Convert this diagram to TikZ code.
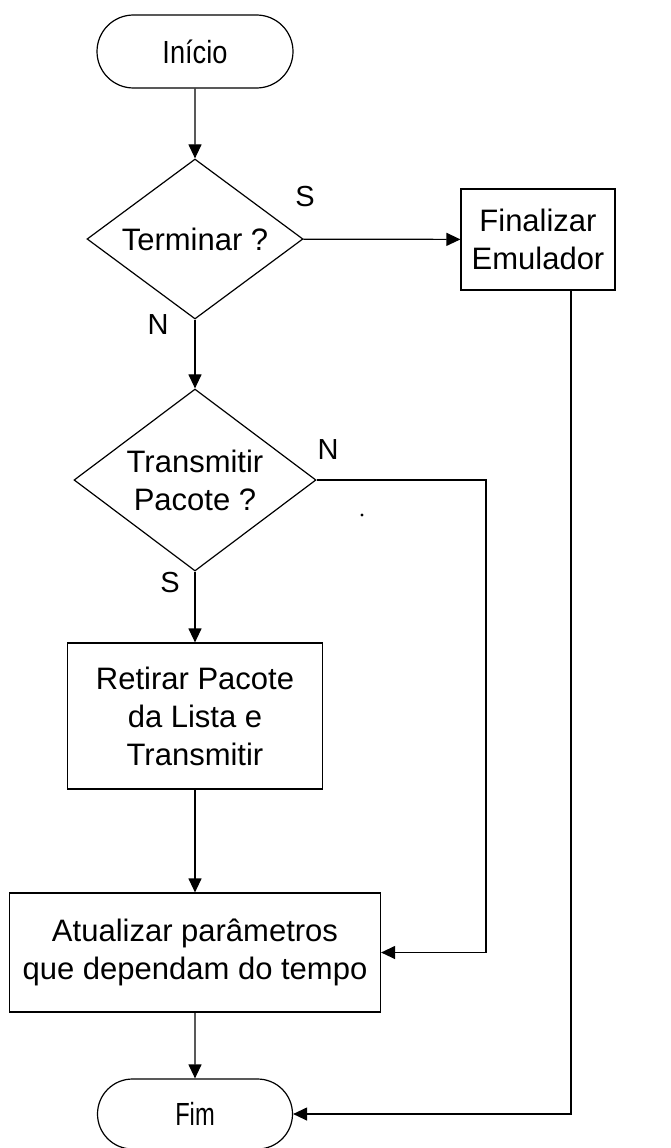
\documentclass[tikz,border=0pt]{standalone}
\usepackage{fontspec}
\usepackage{graphicx}
\setmainfont{Liberation Sans}
\usetikzlibrary{shapes.geometric,shapes.misc,arrows.meta}

\begin{document}
\begin{tikzpicture}[x=1pt,y=-1pt,
  every node/.style={inner sep=0pt, font=\fontsize{31}{38}\selectfont},
  flow/.style={line width=1.2pt, -{Triangle[length=14pt,width=13pt]}},
  terminal/.style={draw, line width=1.2pt, rounded rectangle, font=\fontsize{32}{38}\selectfont},
  decision/.style={draw, line width=1.2pt, diamond, align=center},
  process/.style={draw, line width=1.2pt, rectangle, align=center},
  tag/.style={font=\fontsize{29}{34}\selectfont}
]
% page frame
\path[fill=white, use as bounding box] (0,0) rectangle (671,1148);

% blocks
\node[terminal, minimum width=196pt, minimum height=73pt] (inicio) at (195,51.5) {\scalebox{0.85}[1]{Início}};
\node[decision, minimum width=216pt, minimum height=160pt, aspect=1.35] (terminar) at (195,239) {Terminar ?};
\node[process, minimum width=154pt, minimum height=101pt] (finalizar) at (538,239.5) {Finalizar\\Emulador};
\node[decision, minimum width=242pt, minimum height=182pt, aspect=1.33] (transmitir) at (195,480) {Transmitir\\Pacote ?};
\node[process, minimum width=255pt, minimum height=146pt] (retirar) at (195,716) {Retirar Pacote\\da Lista e\\Transmitir};
\node[process, minimum width=371pt, minimum height=119pt] (atualizar) at (195,952.5) {Atualizar parâmetros\\que dependam do tempo};
\node[terminal, minimum width=195pt, minimum height=70pt] (fim) at (195,1114) {\scalebox{0.74}[1]{Fim}};

% branch labels
\node[tag] (s1) at (305,197) {S};
\node[tag] (n1) at (158,325) {N};
\node[tag] (n2) at (328,450) {N};
\node[tag] (s2) at (170,583) {S};

% turning points
\coordinate (nturn) at (486,480);
\coordinate (fturn) at (571,290);

% connectors
\draw[flow] (inicio) -- (terminar);
\draw[flow] (terminar) -- (finalizar);
\draw[flow] (terminar) -- (transmitir);
\draw[flow] (transmitir) -- (retirar);
\draw[flow] (retirar) -- (atualizar);
\draw[flow] (atualizar) -- (fim);
\draw[flow] (transmitir.east) -- (nturn) |- (atualizar.east);
\draw[flow] (fturn) |- (fim.east);

% stray mark
\fill (362,515) circle (1.6pt);
\end{tikzpicture}
\end{document}
